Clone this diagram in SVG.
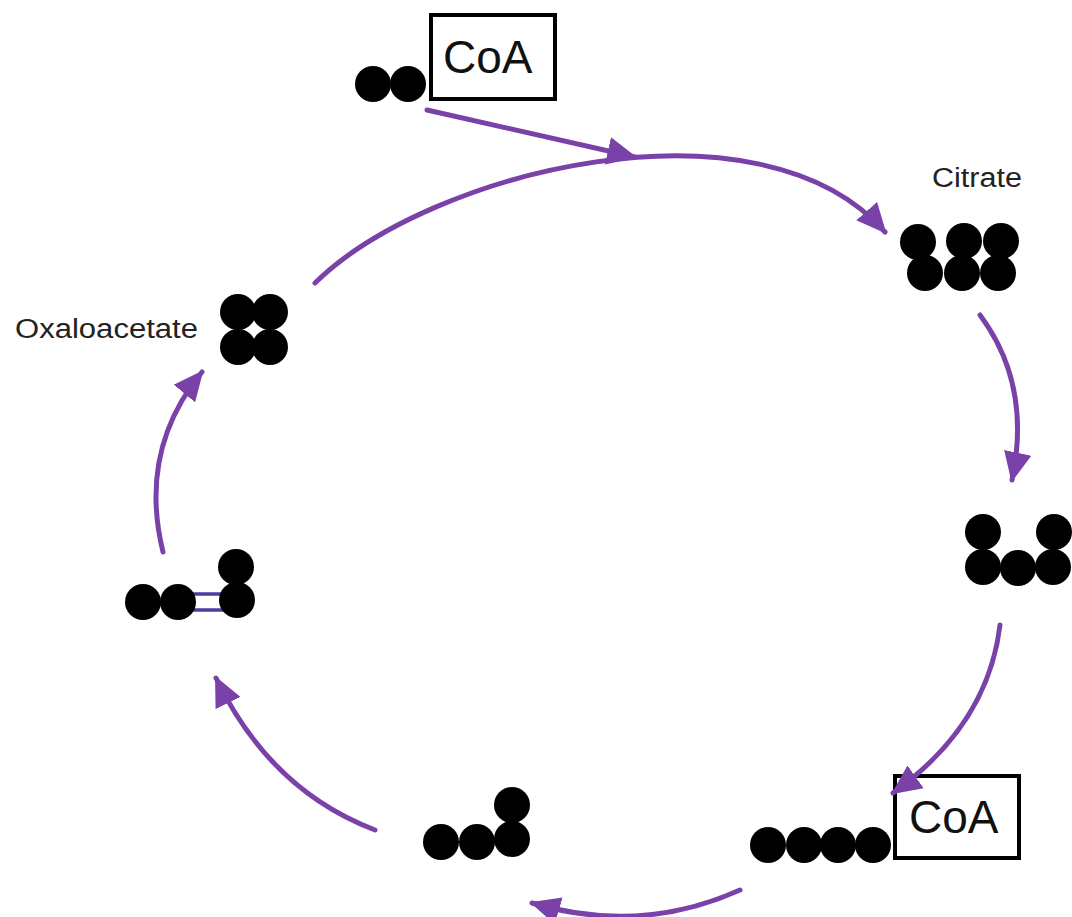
<svg xmlns="http://www.w3.org/2000/svg" width="1072" height="917" viewBox="0 0 1072 917">
<style>
.atom{fill:#000}
.arr{fill:none;stroke:#7a42a8;stroke-width:5;stroke-linecap:round;marker-end:url(#ah)}
.box{fill:#fff;stroke:#000;stroke-width:4}
.coa{font-family:"Liberation Sans",Arial,sans-serif;font-size:46px;fill:#111}
.lbl{font-family:"Liberation Sans",Arial,sans-serif;font-size:27px;fill:#222}
.bond{stroke:#4a3f9e;stroke-width:3.5}
</style>
<defs>
<marker id="ah" markerUnits="userSpaceOnUse" markerWidth="30" markerHeight="30" viewBox="0 0 27 25" refX="25" refY="12.5" orient="auto">
<path d="M0,0 L27,12.5 L0,25 Z" fill="#7a42a8"/>
</marker>
</defs>
<rect width="1072" height="917" fill="#fff"/>
<g id="acetylcoa">
<circle class="atom" cx="373" cy="84" r="18"/>
<circle class="atom" cx="408" cy="84" r="18"/>
<rect class="box" x="431" y="15" width="124" height="84"/>
<text class="coa" x="443" y="73">CoA</text>
</g>
<g id="citrate">
<text class="lbl" x="932" y="187" textLength="90" lengthAdjust="spacingAndGlyphs">Citrate</text>
<circle class="atom" cx="925" cy="273" r="18"/>
<circle class="atom" cx="962" cy="273" r="18"/>
<circle class="atom" cx="998" cy="273" r="18"/>
<circle class="atom" cx="918" cy="242" r="18"/>
<circle class="atom" cx="964" cy="241" r="18"/>
<circle class="atom" cx="1001" cy="241" r="18"/>
</g>
<g id="isocitrate">
<circle class="atom" cx="983" cy="532" r="18"/>
<circle class="atom" cx="1054" cy="532" r="18"/>
<circle class="atom" cx="983" cy="567" r="18"/>
<circle class="atom" cx="1018" cy="568" r="18"/>
<circle class="atom" cx="1053" cy="567" r="18"/>
</g>
<g id="succinylcoa">
<circle class="atom" cx="768" cy="845" r="18"/>
<circle class="atom" cx="804" cy="845" r="18"/>
<circle class="atom" cx="838" cy="845" r="18"/>
<circle class="atom" cx="873" cy="845" r="18"/>
<rect class="box" x="895" y="776" width="124" height="82"/>
<text class="coa" x="909" y="833">CoA</text>
</g>
<g id="succinate">
<circle class="atom" cx="441" cy="842" r="18"/>
<circle class="atom" cx="477" cy="842" r="18"/>
<circle class="atom" cx="512" cy="839" r="18"/>
<circle class="atom" cx="512" cy="805" r="18"/>
</g>
<g id="fumarate">
<line class="bond" x1="185" y1="594" x2="230" y2="594"/>
<line class="bond" x1="185" y1="610" x2="230" y2="610"/>
<circle class="atom" cx="143" cy="602" r="18"/>
<circle class="atom" cx="178" cy="602" r="18"/>
<circle class="atom" cx="237" cy="600" r="18"/>
<circle class="atom" cx="236" cy="567" r="18"/>
</g>
<g id="oxaloacetate">
<text class="lbl" x="15" y="338" textLength="183" lengthAdjust="spacingAndGlyphs">Oxaloacetate</text>
<circle class="atom" cx="238" cy="312" r="18"/>
<circle class="atom" cx="270" cy="312" r="18"/>
<circle class="atom" cx="238" cy="347" r="18"/>
<circle class="atom" cx="270" cy="347" r="18"/>
</g>
<g id="connectors">
<path class="arr" d="M427,110 L635,157"/>
<path class="arr" d="M315,283 C430,170 760,90 885,232"/>
<path class="arr" d="M980,315 Q1032,385 1012,480"/>
<path class="arr" d="M1000,625 Q988,725 893,793"/>
<path class="arr" d="M740,890 Q640,935 532,903"/>
<path class="arr" d="M375,830 Q270,790 216,678"/>
<path class="arr" d="M163,552 Q138,450 202,372"/>
</g>
</svg>
